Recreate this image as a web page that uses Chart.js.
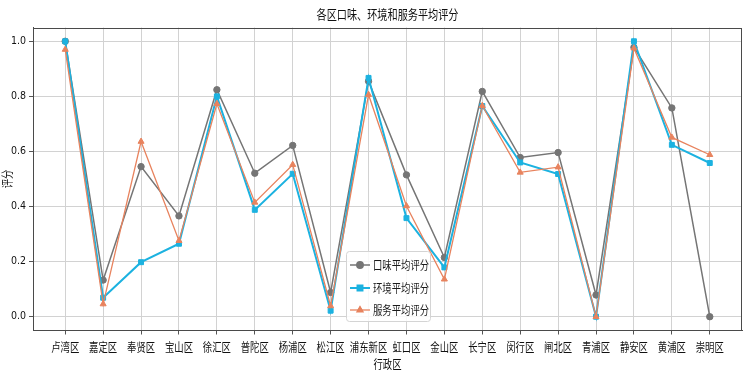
<!DOCTYPE html>
<html>
<head>
<meta charset="utf-8">
<script src="https://cdn.jsdelivr.net/npm/chart.js@4/dist/chart.umd.min.js"></script>
<style>
html,body{margin:0;padding:0;background:#fff;}
#wrap{width:747px;height:372px;position:relative;}
</style>
</head>
<body>
<div id="wrap"><canvas id="c" width="747" height="372"></canvas></div>
<script>
const titleText = '各区口味、环境和服务平均评分';
const xTitle = '行政区';
const yTitle = '评分';
const categories = ['卢湾区','嘉定区','奉贤区','宝山区','徐汇区','普陀区','杨浦区','松江区','浦东新区','虹口区','金山区','长宁区','闵行区','闸北区','青浦区','静安区','黄浦区','崇明区'];
const seriesNames = ['口味平均评分','环境平均评分','服务平均评分'];
const tasteScores   = [1.0, 0.133, 0.545, 0.366, 0.824, 0.521, 0.622, 0.088, 0.855, 0.515, 0.215, 0.818, 0.578, 0.596, 0.079, 0.978, 0.758, 0.0];
const envScores     = [1.0, 0.069, 0.198, 0.265, 0.800, 0.388, 0.519, 0.022, 0.867, 0.358, 0.179, 0.765, 0.560, 0.518, 0.0,   1.0,   0.624, 0.558];
const serviceScores = [0.97, 0.046, 0.636, 0.276, 0.773, 0.415, 0.552, 0.039, 0.806, 0.402, 0.136, 0.766, 0.524, 0.543, 0.0,  0.975, 0.651, 0.588];
const yTicks = [0.0, 0.2, 0.4, 0.6, 0.8, 1.0];

const toPts = arr => arr.map((v, i) => ({x: i, y: v}));
const GRAY = '#757575', CYAN = '#1cb2e0', ORANGE = '#e8835e';
const CJK = '"Noto Sans CJK SC"';
const SQUEEZE = 0.78;

// Horizontally condense CJK text (the reference uses a narrow CJK face)
const condensePlugin = {
  id: 'condense',
  beforeDraw(chart) {
    const ctx = chart.ctx;
    if (ctx._origFillText) return;
    const orig = ctx.fillText;
    ctx._origFillText = orig;
    ctx.fillText = function (t, x, y, mw) {
      if (typeof t === 'string' && /[\u3000-\u9fff]/.test(t)) {
        this.save();
        this.translate(x, y);
        this.scale(SQUEEZE, 1);
        orig.call(this, t, 0, 0);
        this.restore();
      } else if (mw !== undefined) {
        orig.call(this, t, x, y, mw);
      } else {
        orig.call(this, t, x, y);
      }
    };
  }
};

const legendPlugin = {
  id: 'boxLegend',
  afterDraw(chart) {
    const ctx = chart.ctx;
    const x0 = 346, y0 = 251, w = 84, h = 70;
    ctx.save();
    ctx.fillStyle = 'rgba(255,255,255,0.85)';
    ctx.strokeStyle = '#d4d4d4';
    ctx.lineWidth = 1;
    ctx.beginPath();
    if (ctx.roundRect) ctx.roundRect(x0 + 0.5, y0 + 0.5, w, h, 3); else ctx.rect(x0 + 0.5, y0 + 0.5, w, h);
    ctx.fill(); ctx.stroke();
    const ys = [265, 288, 310];
    chart.data.datasets.slice().sort((a, b) => a.legendIndex - b.legendIndex).forEach((ds, k) => {
      const y = ys[k];
      ctx.strokeStyle = ds.borderColor;
      ctx.lineWidth = ds.borderWidth;
      ctx.beginPath(); ctx.moveTo(350, y); ctx.lineTo(370, y); ctx.stroke();
      Chart.helpers.drawPoint(ctx, {pointStyle: ds.pointStyle, radius: ds.pointRadius, borderWidth: 1}, 360, y);
      ctx.fillStyle = ds.borderColor;
      ctx.fill();
      ctx.fillStyle = '#1a1a1a';
      ctx.font = '12px ' + CJK;
      ctx.textBaseline = 'middle';
      ctx.textAlign = 'left';
      ctx.fillText(ds.label, 373, y + 0.5);
    });
    ctx.restore();
  }
};

const framePlugin = {
  id: 'frame',
  afterDatasetsDraw(chart) {
    const a = chart.chartArea, ctx = chart.ctx;
    ctx.save();
    ctx.strokeStyle = '#4a4a4a';
    ctx.lineWidth = 1;
    ctx.strokeRect(Math.round(a.left) + 0.5, Math.round(a.top) + 0.5, Math.round(a.right - a.left) - 1, Math.round(a.bottom - a.top) - 1);
    ctx.restore();
  }
};

new Chart(document.getElementById('c'), {
  type: 'line',
  data: {
    datasets: [
      {label: seriesNames[0], data: toPts(tasteScores), legendIndex: 0, order: 3, borderColor: GRAY, backgroundColor: GRAY, borderWidth: 1.5, pointStyle: 'circle', pointRadius: 3.2, pointBorderWidth: 1},
      {label: seriesNames[1], data: toPts(envScores), legendIndex: 1, order: 2, borderColor: CYAN, backgroundColor: CYAN, borderWidth: 2, pointStyle: 'rect', pointRadius: 3.5, pointBorderWidth: 1},
      {label: seriesNames[2], data: toPts(serviceScores), legendIndex: 2, order: 1, borderColor: ORANGE, backgroundColor: ORANGE, borderWidth: 1.3, pointStyle: 'triangle', pointRadius: 3.5, pointBorderWidth: 1}
    ]
  },
  options: {
    responsive: false,
    animation: false,
    events: [],
    layout: {padding: {left: 0, right: 2, top: 0, bottom: 0}},
    plugins: {
      legend: {display: false},
      tooltip: {enabled: false},
      title: {display: true, text: titleText, fullSize: false, color: '#111', font: {family: CJK, size: 13, weight: 'normal'}, padding: {top: 6, bottom: 5.9}}
    },
    scales: {
      x: {
        type: 'linear', min: -0.85, max: 17.85,
        afterBuildTicks: s => { s.ticks = categories.map((_, i) => ({value: i})); },
        afterFit: s => { s.height = 41.5; },
        ticks: {autoSkip: false, maxRotation: 0, padding: 6, color: '#111', font: {family: CJK, size: 12}, callback: v => categories[v]},
        grid: {color: '#d2d2d2', lineWidth: 1, tickLength: 4, tickColor: '#555'},
        border: {display: true, color: '#4a4a4a'},
        title: {display: true, text: xTitle, color: '#111', font: {family: CJK, size: 12}, padding: {top: 0, bottom: 0}}
      },
      y: {
        type: 'linear', min: -0.05, max: 1.05,
        afterBuildTicks: s => { s.ticks = yTicks.map(v => ({value: v})); },
        afterFit: s => { s.width = 33; },
        ticks: {padding: 3, color: '#111', font: {family: '"DejaVu Sans Condensed", "DejaVu Sans"', size: 10.5}, callback: v => Number(v).toFixed(1)},
        grid: {color: '#d2d2d2', lineWidth: 1, tickLength: 4, tickColor: '#555'},
        border: {display: true, color: '#4a4a4a'},
        title: {display: true, text: yTitle, color: '#111', font: {family: CJK, size: 12}, padding: {top: 0, bottom: 0}}
      }
    }
  },
  plugins: [condensePlugin, framePlugin, legendPlugin]
});
</script>
</body>
</html>
